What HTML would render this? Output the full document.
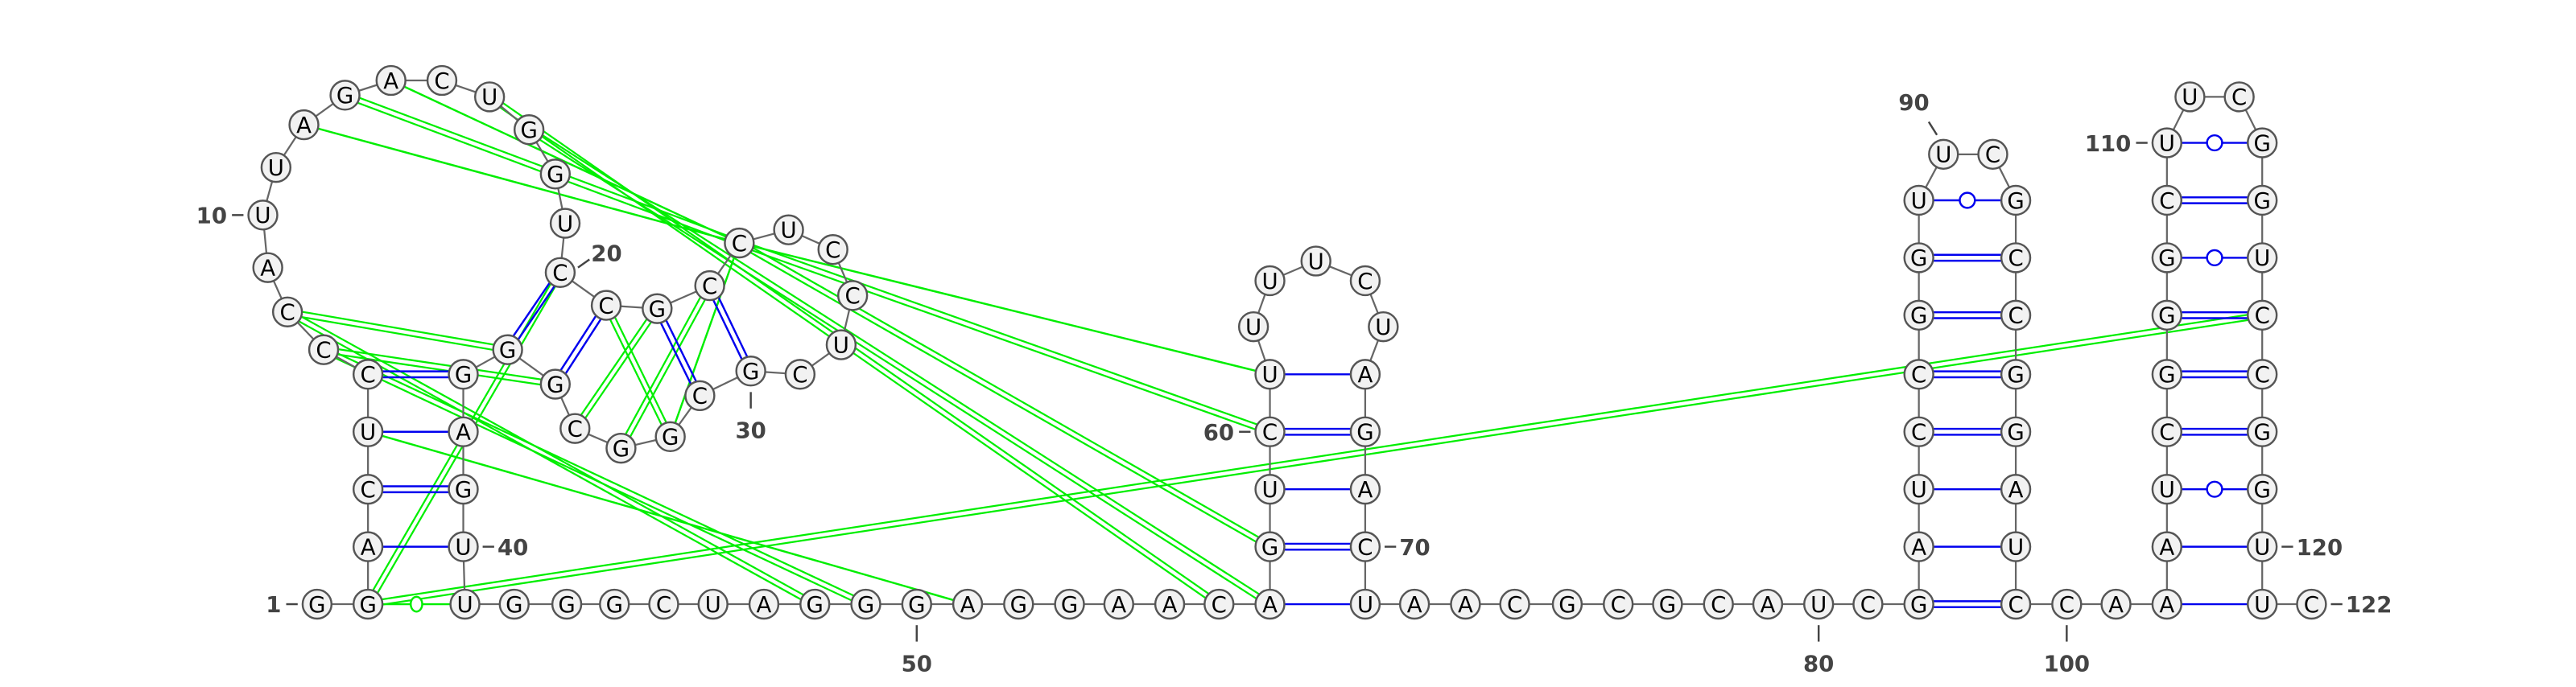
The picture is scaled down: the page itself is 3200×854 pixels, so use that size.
<!DOCTYPE html>
<html><head><meta charset="utf-8"><style>
html,body{margin:0;padding:0;background:#fff;}
svg{display:block;}
text{font-family:"DejaVu Sans","Liberation Sans",sans-serif;}
</style></head><body>
<svg id="chart" width="3200" height="854" viewBox="0 0 1568 418.45" preserveAspectRatio="none" xmlns="http://www.w3.org/2000/svg">
<g id="tert"></g><g id="pairs"></g><g id="bb"></g><g id="nodes"></g><g id="labels"></g>
</svg>
<script>
const seq = ("GGACUCCCAU"+"UAGACUGGUC"+"CGCCUCCUCG"+"CGGCGGGAGU"+"UGGGCUAGGG"+"AGGAACAGUC"+"UUUUCUAGAC"+"UAACGCGCAU"+"CGAUCCGGUU"+"CGCCGGAUCC"+"AAAUCGGGCU"+"UCGGUCCGGU"+"UC").split("");
const nx = [193,224,224,224,224,224,197,175,163,160,168,185,210,238,269,298,322,338,344,341,369,400,432,450,480,507,519,512,487,457,426,408,378,350,338,309,282,282,282,282,283,313,345,374,404,434,465,496,527,558,589,620,651,681,712,742,773,773,773,773,773,763,773,801,831,842,831,831,831,831,831,861,892,922,954,985,1015,1046,1076,1107,1137,1168,1168,1168,1168,1168,1168,1168,1168,1183,1213,1227,1227,1227,1227,1227,1227,1227,1227,1258,1288,1319,1319,1319,1319,1319,1319,1319,1319,1319,1333,1363,1377,1377,1377,1377,1377,1377,1377,1377,1377,1407];
const ny = [368,368,333,298,263,228,213,190,163,131,102,76,58,49,49,59,79,106,136,166,186,188,174,148,140,152,180,210,228,226,241,266,273,261,234,213,228,263,298,333,368,368,368,368,368,368,368,368,368,368,368,368,368,368,368,368,368,333,298,263,228,199,171,159,171,199,228,263,298,333,368,368,368,368,368,368,368,368,368,368,368,368,333,298,263,228,192,157,122,94,94,122,157,192,228,263,298,333,368,368,368,368,333,298,263,228,192,157,122,87,59,59,87,122,157,192,228,263,298,333,368,368];
const pairI = [3,4,5,6,20,21,22,23,57,58,59,60,61,82,83,84,85,86,87,88,89,102,103,104,105,106,107,108,109,110];
const pairJ = [40,39,38,37,36,35,31,30,71,70,69,68,67,99,98,97,96,95,94,93,92,121,120,119,118,117,116,115,114,113];
const pairT = [1,2,1,2,2,2,2,2,1,2,1,2,1,2,1,1,2,2,2,2,0,1,1,0,2,2,2,0,2,0];
const tertI = [2,2,7,8,8,7,5,12,13,14,16,17,24,24,24,21,22,23,24,2];
const tertJ = [116,20,35,36,48,49,51,24,24,24,56,57,58,60,61,32,34,33,32,41];
const tertT = [2,2,2,2,2,2,1,1,2,1,2,2,2,2,1,2,2,2,1,0];
const labNum = [1,10,20,30,40,50,60,70,80,90,100,110,120,122];
const labDir = ["l","l","ur","d","r","d","l","r","d","u","d","l","r","r"];
const NS="http://www.w3.org/2000/svg";
function mk(tag,attrs,parent){const e=document.createElementNS(NS,tag);for(const k in attrs)e.setAttribute(k,attrs[k]);parent.appendChild(e);return e;}
const R=8.8;
const N=Math.min(seq.length,nx.length,ny.length);
function P(i){return [nx[i-1],ny[i-1]];}
function dbl(g,a,b,col,w,gap,name){
  const dx=b[0]-a[0],dy=b[1]-a[1],L=Math.hypot(dx,dy),px=-dy/L*gap,py=dx/L*gap;
  for(const s of [-1,1]){const l=mk('line',{x1:a[0]+px*s,y1:a[1]+py*s,x2:b[0]+px*s,y2:b[1]+py*s,stroke:col,'stroke-width':w},g);
  
  }
}
const gT=document.getElementById('tert'),gP=document.getElementById('pairs'),gB=document.getElementById('bb'),gN=document.getElementById('nodes'),gL=document.getElementById('labels');
for(let k=0;k<tertI.length;k++){
  const a=P(tertI[k]),b=P(tertJ[k]);
  if(tertT[k]==2){dbl(gT,a,b,'#00ee00',1.1,1.6,'tertiary-interaction');}
  else{const l=mk('line',{x1:a[0],y1:a[1],x2:b[0],y2:b[1],stroke:'#00ee00','stroke-width':1.2},gT);
    
    
    if(tertT[k]==0){const c=mk('ellipse',{cx:(a[0]+b[0])/2,cy:(a[1]+b[1])/2,rx:3.5,ry:4.5,fill:'#fff',stroke:'#00ee00','stroke-width':1.2},gT);
      
      }}
}
for(let k=0;k<pairI.length;k++){
  const a=P(pairI[k]),b=P(pairJ[k]);
  if(pairT[k]==2){dbl(gP,a,b,'#0000ee',1.2,1.8,'base-pair');}
  else{const l=mk('line',{x1:a[0],y1:a[1],x2:b[0],y2:b[1],stroke:'#0000ee','stroke-width':1.2},gP);
    
    
    if(pairT[k]==0){const c=mk('circle',{cx:(a[0]+b[0])/2,cy:(a[1]+b[1])/2,r:4.6,fill:'#fff',stroke:'#0000ee','stroke-width':1.2},gP);
      
      }}
}
for(let i=1;i<N;i++){
  const a=P(i),b=P(i+1);
  const l=mk('line',{x1:a[0],y1:a[1],x2:b[0],y2:b[1],stroke:'#666','stroke-width':1.1},gB);
  
  
}
for(let i=1;i<=N;i++){
  const [x,y]=P(i);
  const g=mk('g',{},gN);
  
  
  mk('circle',{cx:x,cy:y,r:R,fill:'#f2f2f2',stroke:'#555','stroke-width':1.2},g);
  const t=mk('text',{x:x,y:y+4.8,'text-anchor':'middle','font-size':13.5,fill:'#000'},g);
  t.textContent=seq[i-1];
}
for(let k=0;k<labNum.length;k++){
  const [x,y]=P(labNum[k]);const d=labDir[k];
  let x1,y1,x2,y2,tx,ty,anc;
  if(d=='l'){x1=x-R-3;x2=x-R-10;y1=y2=y;tx=x-R-13;ty=y+5;anc='end';}
  else if(d=='r'){x1=x+R+3;x2=x+R+10;y1=y2=y;tx=x+R+12;ty=y+5;anc='start';}
  else if(d=='d'){x1=x2=x;y1=y+R+4;y2=y+R+14;tx=x;ty=y+R+32;anc='middle';}
  else if(d=='ur'){x1=x+R+2;y1=y-3;x2=x+R+9;y2=y-8;tx=x+R+10;ty=y-7;anc='start';}
  else {x1=x-4;y1=y-R-3;x2=x-9;y2=y-R-11;tx=x-18;ty=y-R-18;anc='middle';}
  const l=mk('line',{x1,y1,x2,y2,stroke:'#444','stroke-width':1.2},gL);
  
  
  const t=mk('text',{x:tx,y:ty,'text-anchor':anc,'font-size':13.5,'font-weight':'bold',fill:'#444'},gL);
  
  
  t.textContent=labNum[k];
}
</script>
</body></html>
